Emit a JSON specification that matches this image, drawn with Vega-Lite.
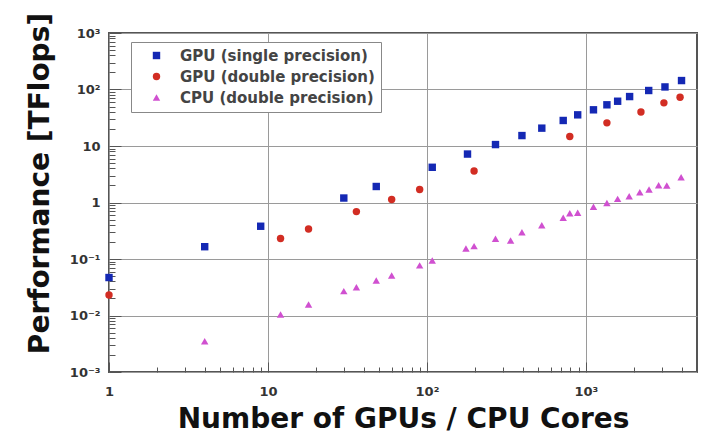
{
  "$schema": "https://vega.github.io/schema/vega-lite/v6.json",
  "width": 588,
  "height": 339,
  "autosize": {"type": "none"},
  "padding": {"left": 109, "top": 33, "right": 15, "bottom": 67},
  "background": "white",
  "config": {
    "view": {"stroke": "#555555", "strokeWidth": 2},
    "font": "DejaVu Sans"
  },
  "data": {
    "values": [
      {"series": "GPU (single precision)", "n": 1, "tflops": 0.047},
      {"series": "GPU (single precision)", "n": 4, "tflops": 0.165},
      {"series": "GPU (single precision)", "n": 9, "tflops": 0.38},
      {"series": "GPU (single precision)", "n": 30, "tflops": 1.2},
      {"series": "GPU (single precision)", "n": 48, "tflops": 1.92},
      {"series": "GPU (single precision)", "n": 108, "tflops": 4.2},
      {"series": "GPU (single precision)", "n": 180, "tflops": 7.2},
      {"series": "GPU (single precision)", "n": 270, "tflops": 10.6},
      {"series": "GPU (single precision)", "n": 396, "tflops": 15.3},
      {"series": "GPU (single precision)", "n": 528, "tflops": 20.7},
      {"series": "GPU (single precision)", "n": 720, "tflops": 28.3},
      {"series": "GPU (single precision)", "n": 888, "tflops": 35.6},
      {"series": "GPU (single precision)", "n": 1116, "tflops": 43.7},
      {"series": "GPU (single precision)", "n": 1356, "tflops": 53.6},
      {"series": "GPU (single precision)", "n": 1584, "tflops": 62},
      {"series": "GPU (single precision)", "n": 1884, "tflops": 75},
      {"series": "GPU (single precision)", "n": 2484, "tflops": 96},
      {"series": "GPU (single precision)", "n": 3144, "tflops": 111},
      {"series": "GPU (single precision)", "n": 3996, "tflops": 144},
      {"series": "GPU (double precision)", "n": 1, "tflops": 0.023},
      {"series": "GPU (double precision)", "n": 12, "tflops": 0.23},
      {"series": "GPU (double precision)", "n": 18, "tflops": 0.34},
      {"series": "GPU (double precision)", "n": 36, "tflops": 0.69},
      {"series": "GPU (double precision)", "n": 60, "tflops": 1.13},
      {"series": "GPU (double precision)", "n": 90, "tflops": 1.7},
      {"series": "GPU (double precision)", "n": 198, "tflops": 3.6},
      {"series": "GPU (double precision)", "n": 792, "tflops": 14.7},
      {"series": "GPU (double precision)", "n": 1356, "tflops": 25.7},
      {"series": "GPU (double precision)", "n": 2220, "tflops": 40},
      {"series": "GPU (double precision)", "n": 3096, "tflops": 58},
      {"series": "GPU (double precision)", "n": 3912, "tflops": 73},
      {"series": "CPU (double precision)", "n": 4, "tflops": 0.0035},
      {"series": "CPU (double precision)", "n": 12, "tflops": 0.0104},
      {"series": "CPU (double precision)", "n": 18, "tflops": 0.0157},
      {"series": "CPU (double precision)", "n": 30, "tflops": 0.027},
      {"series": "CPU (double precision)", "n": 36, "tflops": 0.0317},
      {"series": "CPU (double precision)", "n": 48, "tflops": 0.0416},
      {"series": "CPU (double precision)", "n": 60, "tflops": 0.051},
      {"series": "CPU (double precision)", "n": 90, "tflops": 0.077},
      {"series": "CPU (double precision)", "n": 108, "tflops": 0.094},
      {"series": "CPU (double precision)", "n": 176, "tflops": 0.153},
      {"series": "CPU (double precision)", "n": 198, "tflops": 0.169},
      {"series": "CPU (double precision)", "n": 270, "tflops": 0.228},
      {"series": "CPU (double precision)", "n": 336, "tflops": 0.212},
      {"series": "CPU (double precision)", "n": 396, "tflops": 0.298},
      {"series": "CPU (double precision)", "n": 528, "tflops": 0.397},
      {"series": "CPU (double precision)", "n": 720, "tflops": 0.536},
      {"series": "CPU (double precision)", "n": 792, "tflops": 0.647},
      {"series": "CPU (double precision)", "n": 888, "tflops": 0.657},
      {"series": "CPU (double precision)", "n": 1116, "tflops": 0.84},
      {"series": "CPU (double precision)", "n": 1356, "tflops": 0.98},
      {"series": "CPU (double precision)", "n": 1584, "tflops": 1.16},
      {"series": "CPU (double precision)", "n": 1872, "tflops": 1.29},
      {"series": "CPU (double precision)", "n": 2184, "tflops": 1.52},
      {"series": "CPU (double precision)", "n": 2496, "tflops": 1.7},
      {"series": "CPU (double precision)", "n": 2868, "tflops": 2.02},
      {"series": "CPU (double precision)", "n": 3228, "tflops": 2.0},
      {"series": "CPU (double precision)", "n": 3972, "tflops": 2.8}
    ]
  },
  "mark": {"type": "point", "filled": true, "opacity": 1, "size": 55, "clip": false},
  "encoding": {
    "x": {
      "field": "n",
      "type": "quantitative",
      "scale": {"type": "log", "domain": [1, 5000], "nice": false},
      "axis": {
        "title": "Number of GPUs / CPU Cores",
        "titleFont": "DejaVu Sans",
        "titleFontSize": 28,
        "titleFontWeight": "bold",
        "titleColor": "#111111",
        "titlePadding": 2,
        "values": [1,2,3,4,5,6,7,8,9,10,20,30,40,50,60,70,80,90,100,200,300,400,500,600,700,800,900,1000,2000,3000,4000,5000],
        "labelExpr": "abs(log(datum.value)/LN10 - round(log(datum.value)/LN10)) > 0.001 ? '' : round(log(datum.value)/LN10) == 0 ? '1' : round(log(datum.value)/LN10) == 1 ? '10' : round(log(datum.value)/LN10) == 2 ? '10²' : '10³'",
        "labelFontSize": 13,
        "labelFontWeight": "bold",
        "labelColor": "#333333",
        "labelPadding": 23,
        "labelFlush": false,
        "labelOverlap": false,
        "domain": false,
        "tickColor": "#555555",
        "tickSize": {"condition": {"test": "abs(log(datum.value)/LN10 - round(log(datum.value)/LN10)) < 0.001", "value": -10}, "value": -5},
        "grid": true,
        "gridColor": "#9a9a9a",
        "gridWidth": 1,
        "gridOpacity": {"condition": {"test": "abs(log(datum.value)/LN10 - round(log(datum.value)/LN10)) < 0.001", "value": 1}, "value": 0}
      }
    },
    "y": {
      "field": "tflops",
      "type": "quantitative",
      "scale": {"type": "log", "domain": [0.001, 1000], "nice": false},
      "axis": {
        "title": "Performance [TFlops]",
        "titleFont": "DejaVu Sans",
        "titleFontSize": 28,
        "titleFontWeight": "bold",
        "titleColor": "#111111",
        "titlePadding": 15,
        "titleY": 150,
        "values": [0.001,0.002,0.003,0.004,0.005,0.006,0.007,0.008,0.009,0.01,0.02,0.03,0.04,0.05,0.06,0.07,0.08,0.09,0.1,0.2,0.3,0.4,0.5,0.6,0.7,0.8,0.9,1,2,3,4,5,6,7,8,9,10,20,30,40,50,60,70,80,90,100,200,300,400,500,600,700,800,900,1000],
        "labelExpr": "abs(log(datum.value)/LN10 - round(log(datum.value)/LN10)) > 0.001 ? '' : round(log(datum.value)/LN10) == 3 ? '10³' : round(log(datum.value)/LN10) == 2 ? '10²' : round(log(datum.value)/LN10) == 1 ? '10' : round(log(datum.value)/LN10) == 0 ? '1' : round(log(datum.value)/LN10) == -1 ? '10⁻¹' : round(log(datum.value)/LN10) == -2 ? '10⁻²' : '10⁻³'",
        "labelFontSize": 13,
        "labelFontWeight": "bold",
        "labelColor": "#333333",
        "labelPadding": 21,
        "labelFlush": false,
        "labelOverlap": false,
        "domain": false,
        "tickColor": "#555555",
        "tickSize": {"condition": {"test": "abs(log(datum.value)/LN10 - round(log(datum.value)/LN10)) < 0.001", "value": -12}, "value": -6},
        "grid": true,
        "gridColor": "#9a9a9a",
        "gridWidth": 1,
        "gridOpacity": {"condition": {"test": "abs(log(datum.value)/LN10 - round(log(datum.value)/LN10)) < 0.001", "value": 1}, "value": 0}
      }
    },
    "color": {
      "field": "series",
      "type": "nominal",
      "scale": {
        "domain": ["GPU (single precision)", "GPU (double precision)", "CPU (double precision)"],
        "range": ["#1428b4", "#d22d23", "#d050d0"]
      },
      "legend": {
        "title": null,
        "orient": "none",
        "legendX": 22,
        "legendY": 9,
        "direction": "vertical",
        "strokeColor": "#888888",
        "fillColor": "#ffffff",
        "padding": 6,
        "symbolOffset": 12,
        "symbolSize": 55,
        "labelFont": "DejaVu Sans",
        "labelFontSize": 15,
        "labelFontWeight": "bold",
        "labelColor": "#444444",
        "labelOffset": 16,
        "labelLimit": 400,
        "rowPadding": 5
      }
    },
    "shape": {
      "field": "series",
      "type": "nominal",
      "scale": {
        "domain": ["GPU (single precision)", "GPU (double precision)", "CPU (double precision)"],
        "range": ["square", "circle", "triangle-up"]
      }
    }
  }
}
